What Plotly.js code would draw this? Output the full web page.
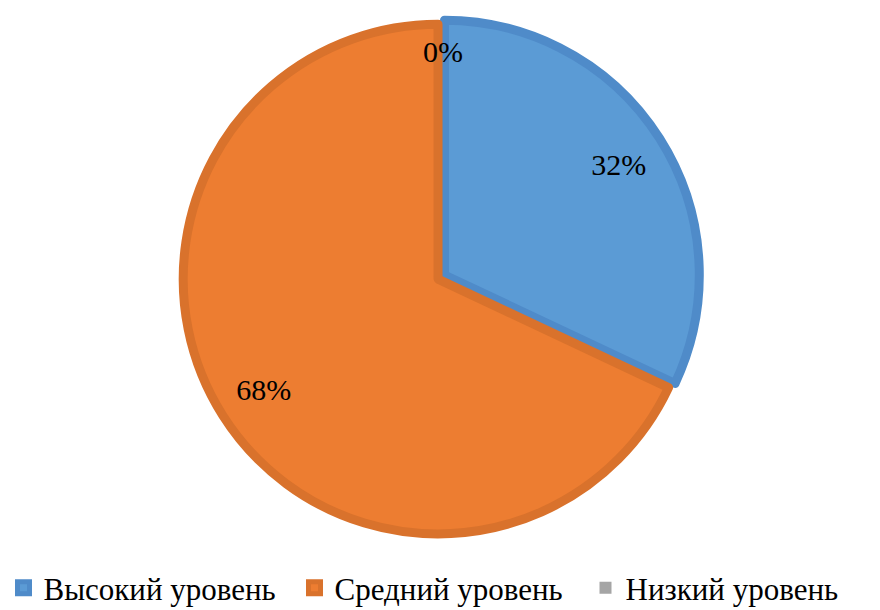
<!DOCTYPE html>
<html><head><meta charset="utf-8">
<script src="https://cdn.plot.ly/plotly-3.0.1.min.js"></script>
<style>html,body{margin:0;padding:0;background:#fff}</style>
</head><body>
<div id="chart" style="width:880px;height:610px"></div>
<script>
const categories = ["Высокий уровень", "Средний уровень", "Низкий уровень"];
const values = [32, 68, 0];
const fillColors = ["#5B9BD5", "#ED7D31", "#A5A5A5"];
const borderColors = ["#4F8BC9", "#D9722C", "#8F8F8F"];
const pulls = [0.03, 0, 0];

const dom = {x: [0.1995, 0.7960], y: [0.111, 0.974]};
const fontFam = 'Liberation Serif';
const total = values.reduce((a, b) => a + b, 0);

const pie = {
  type: 'pie', labels: categories, values: values, sort: false, direction: 'clockwise',
  rotation: 0, pull: pulls, domain: dom,
  marker: {colors: fillColors, line: {color: borderColors, width: values.map(v => v > 0 ? 9 : 0)}},
  textinfo: 'none', hoverinfo: 'label+percent', showlegend: true
};
const labelsRing = {
  type: 'pie', labels: categories, values: values, sort: false, direction: 'clockwise',
  rotation: 0, pull: pulls, domain: dom, hole: 0.62,
  marker: {colors: ['rgba(0,0,0,0)','rgba(0,0,0,0)','rgba(0,0,0,0)'], line: {width: 0}},
  textinfo: 'percent', textposition: 'inside', insidetextorientation: 'horizontal',
  textfont: {family: fontFam, size: 30, color: '#000'},
  hoverinfo: 'skip', showlegend: false
};
// label for zero-value slices (Plotly cannot fit text in a zero-width slice):
// placed on the slice's boundary angle inside the pie, from the domain geometry
const annotations = [];
let cum = 0;
const cx = (dom.x[0] + dom.x[1]) / 2, cy = (dom.y[0] + dom.y[1]) / 2;
const rPx = Math.min((dom.x[1] - dom.x[0]) * 880, (dom.y[1] - dom.y[0]) * 610) / 2 / (1 + Math.max(...pulls));
values.forEach((v, i) => {
  if (v === 0) {
    const ang = cum / total * 2 * Math.PI;
    const rr = rPx * 0.895;
    annotations.push({
      xref: 'paper', yref: 'paper', showarrow: false, xanchor: 'center', yanchor: 'middle',
      x: cx + rr * Math.sin(ang) / 880 + 5 / 880, y: cy + rr * Math.cos(ang) / 610,
      text: Math.round(v / total * 100) + '%',
      font: {family: fontFam, size: 30, color: '#000'}
    });
  }
  cum += v;
});
Plotly.newPlot('chart', [pie, labelsRing], {
  width: 880, height: 610, margin: {l: 0, r: 0, t: 0, b: 0, autoexpand: false},
  paper_bgcolor: '#fff', annotations: annotations,
  legend: {orientation: 'h', x: 0.5, xanchor: 'center', y: 0.036, yanchor: 'middle',
    entrywidth: 246, font: {family: fontFam, size: 31, color: '#000'}, traceorder: 'normal'}
}, {displayModeBar: false});
</script>
</body></html>
